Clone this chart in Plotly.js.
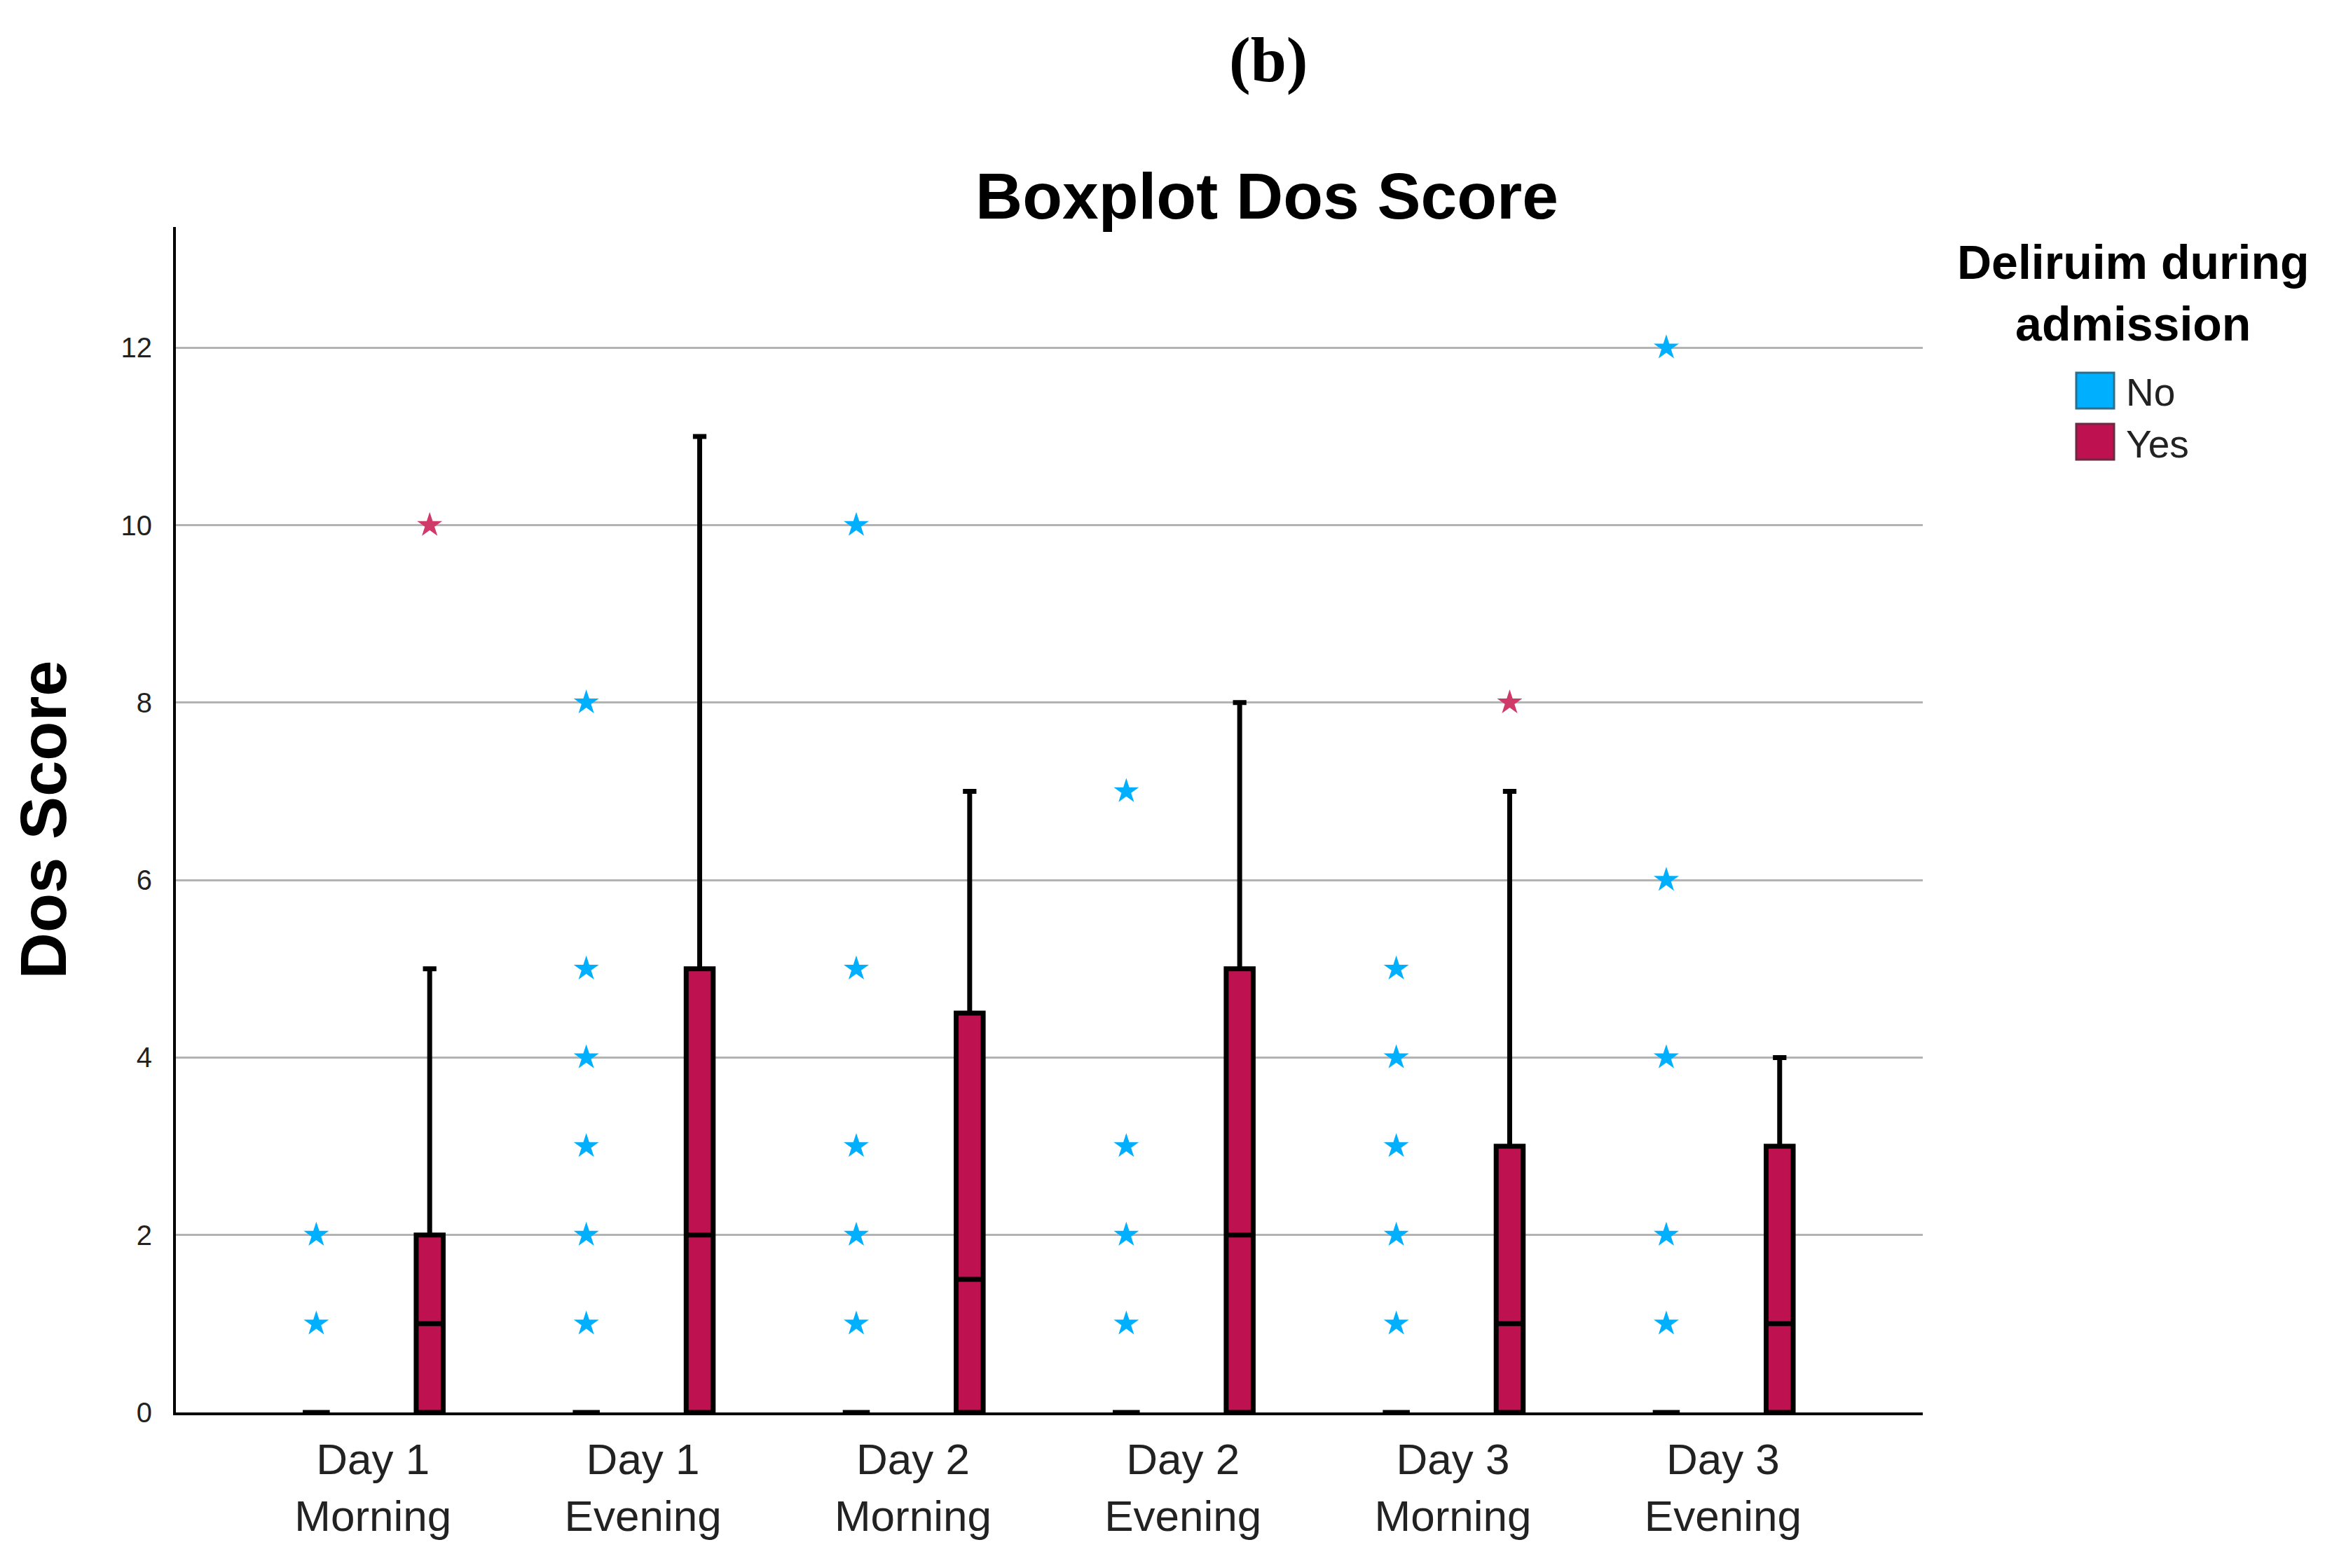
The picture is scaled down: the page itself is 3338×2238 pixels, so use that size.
<!DOCTYPE html>
<html><head><meta charset="utf-8">
<script src="https://cdn.plot.ly/plotly-3.0.1.min.js"></script>
<style>html,body{margin:0;padding:0;background:#fff;}#chart{width:3338px;height:2238px;}</style>
</head><body><div id="chart"></div>
<script>
// ---- data ----
const categories = ["Day 1<br>Morning","Day 1<br>Evening","Day 2<br>Morning","Day 2<br>Evening","Day 3<br>Morning","Day 3<br>Evening"];
const groups = ["No","Yes"];
const legendTitle = ["Deliruim during","admission"];
const noQ1 = [0,0,0,0,0,0];
const noMedian = [0,0,0,0,0,0];
const noQ3 = [0,0,0,0,0,0];
const noLower = [0,0,0,0,0,0];
const noUpper = [0,0,0,0,0,0];
const yesQ1 = [0,0,0,0,0,0];
const yesMedian = [1,2,1.5,2,1,1];
const yesQ3 = [2,5,4.5,5,3,3];
const yesLower = [0,0,0,0,0,0];
const yesUpper = [5,11,7,8,7,4];
const noOutliers = [[1,2],[1,2,3,4,5,8],[1,2,3,5,10],[1,2,3,7],[1,2,3,4,5],[1,2,4,6,12]];
const yesOutliers = [[10],[],[],[],[8],[]];
const yTicks = [0,2,4,6,8,10,12];

// ---- styling / layout ----
const colNo = "#00B0FF", colYes = "#BE1250";
const W = 3338, H = 2238;
const L = 251, R = 2744, T = 324, B = 2016;
const off = 0.21;
const px = x => (x - L) / (R - L);
const py = y => (B - y) / (B - T);
const idx = categories.map((c,i)=>i);

function boxTrace(name, sign, q1, med, q3, lo, hi, fill){
  return {type:"box", name:name, x: idx.map(i=>i+sign*off), q1:q1, median:med, q3:q3,
    lowerfence:lo, upperfence:hi, boxpoints:false, width:0.1, whiskerwidth:0.5,
    fillcolor:fill, line:{color:"#000", width:7}, showlegend:false, hoverinfo:"skip"};
}
function outTrace(name, sign, outs, color){
  const xs=[], ys=[];
  outs.forEach((arr,i)=>arr.forEach(v=>{xs.push(i+sign*off); ys.push(v);}));
  return {type:"scatter", mode:"markers", name:name, x:xs, y:ys, showlegend:false,
    marker:{symbol:"star", size:27, color:color, line:{width:0}}, hoverinfo:"skip", cliponaxis:false};
}
const data = [
  boxTrace(groups[0], -1, noQ1, noMedian, noQ3, noLower, noUpper, colNo),
  boxTrace(groups[1], 1, yesQ1, yesMedian, yesQ3, yesLower, yesUpper, colYes),
  outTrace(groups[0]+" outliers", -1, noOutliers, colNo),
  outTrace(groups[1]+" outliers", 1, yesOutliers, "#CF3A68")
];

const shapes = [
  {type:"rect", xref:"paper", yref:"paper", x0:px(2963), x1:px(3017), y0:py(583), y1:py(532), fillcolor:colNo, line:{color:"#2C6E8E", width:3}},
  {type:"rect", xref:"paper", yref:"paper", x0:px(2963), x1:px(3017), y0:py(656), y1:py(605), fillcolor:colYes, line:{color:"#6A2A42", width:3}}
];
const annotations = [
  {text:"<b>(b)</b>", xref:"paper", yref:"paper", x:px(1810), y:py(85), xanchor:"center", yanchor:"middle", showarrow:false,
   font:{family:"Liberation Serif, Times New Roman, serif", size:92, color:"#000"}},
  {text:"<b>"+legendTitle.join("<br>")+"</b>", xref:"paper", yref:"paper", x:px(3044), y:py(418), xanchor:"center", yanchor:"middle", showarrow:false,
   font:{family:"Arial, Liberation Sans, sans-serif", size:68, color:"#000"}},
  {text:groups[0], xref:"paper", yref:"paper", x:px(3032), y:py(560), xanchor:"left", yanchor:"middle", showarrow:false,
   font:{family:"Arial, Liberation Sans, sans-serif", size:55, color:"#222"}},
  {text:groups[1], xref:"paper", yref:"paper", x:px(3032), y:py(634), xanchor:"left", yanchor:"middle", showarrow:false,
   font:{family:"Arial, Liberation Sans, sans-serif", size:55, color:"#222"}}
];

const layout = {
  width:W, height:H, paper_bgcolor:"#fff", plot_bgcolor:"#fff",
  margin:{l:L, r:W-R, t:T, b:H-B, pad:0},
  boxmode:"overlay", showlegend:false,
  font:{family:"Arial, Liberation Sans, sans-serif", color:"#000"},
  title:{text:"<b>Boxplot Dos Score</b>", xref:"container", yref:"container", x:1808/W, y:1-279/H,
    xanchor:"center", yanchor:"middle", font:{family:"Arial, Liberation Sans, sans-serif", size:93, color:"#000"}},
  xaxis:{range:[-0.73,5.74], tickmode:"array", tickvals:idx, ticktext:categories, showgrid:false, zeroline:false,
    showline:true, linecolor:"#000", linewidth:4, ticks:"", ticklabelstandoff:10,
    tickfont:{family:"Arial, Liberation Sans, sans-serif", size:62, color:"#222"}},
  yaxis:{range:[0,13.36], tickmode:"array", tickvals:yTicks, showgrid:true, gridcolor:"#B3B3B3", gridwidth:3,
    zeroline:false, showline:true, linecolor:"#000", linewidth:4, ticks:"", ticklabelstandoff:22,
    tickfont:{family:"Arial, Liberation Sans, sans-serif", size:40, color:"#222"},
    title:{text:"<b>Dos Score</b>", standoff:48, font:{family:"Arial, Liberation Sans, sans-serif", size:92, color:"#000"}}},
  shapes:shapes, annotations:annotations
};
Plotly.newPlot("chart", data, layout, {staticPlot:true, displayModeBar:false});
</script></body></html>
